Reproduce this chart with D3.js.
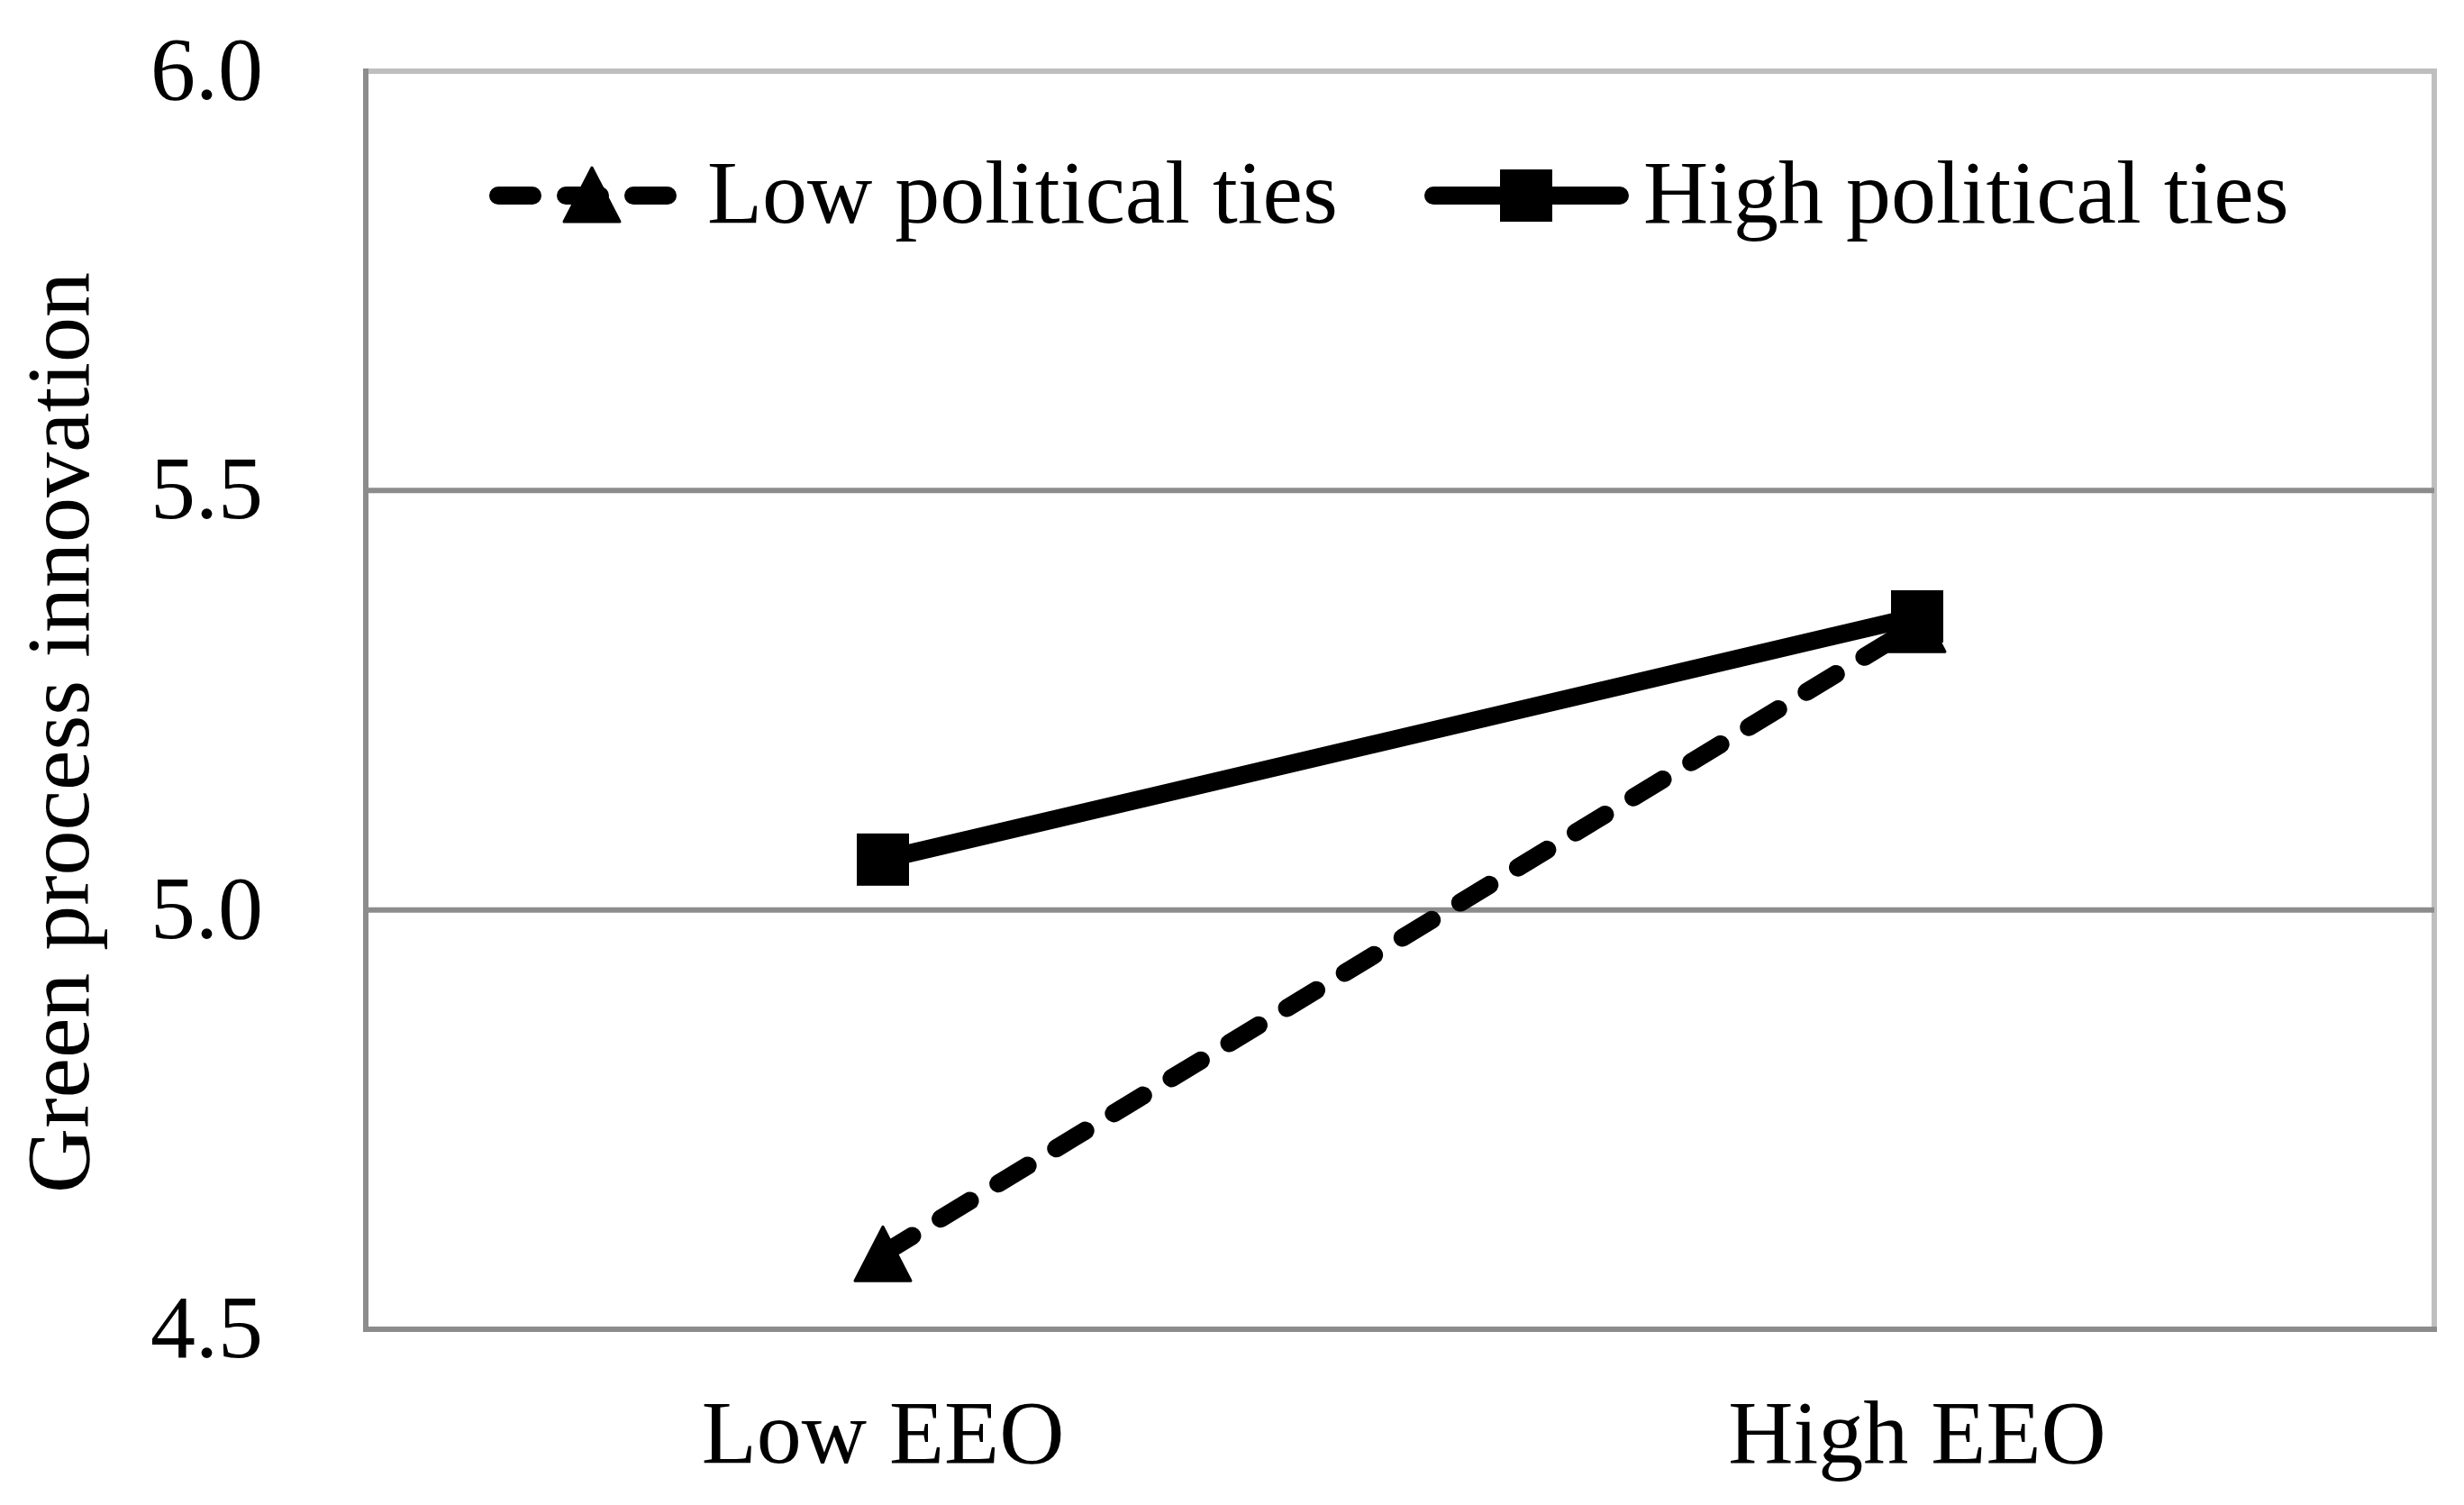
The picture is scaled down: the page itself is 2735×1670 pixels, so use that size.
<html>
  <head>
    <meta charset="utf-8">
    <title>Green process innovation</title>
    <script src="https://d3js.org/d3.v7.min.js"></script>
    <style>
      body { margin: 0; background: #fff; }
      text { font-family: "Liberation Serif", "Times New Roman", serif; fill: #000; }
    </style>
  </head>
  <body>

    <svg id="grafico" width="2735" height="1670"></svg>

    <script>
    // data
    let categories = ["Low EEO", "High EEO"];
    let seriesNames = ["Low political ties", "High political ties"];
    let lowTies = [4.59, 5.34];
    let highTies = [5.06, 5.35];
    let yTicks = [4.5, 5.0, 5.5, 6.0];
    let yTitle = "Green process innovation";

    let width = 2735;
    let height = 1670;
    let plotLeft = 406, plotRight = 2702, plotTop = 79, plotBottom = 1475;
    let fontSize = 100;
    let lineW = 20;

    let svg = d3.select("#grafico");
    svg.append("rect").attr("width", width).attr("height", height).attr("fill", "white");

    let x = d3.scaleBand().domain(categories).range([plotLeft, plotRight]);
    let y = d3.scaleLinear().domain([4.5, 6.0]).range([plotBottom, plotTop]);
    let cx = d => x(d) + x.bandwidth() / 2;

    // plot area border
    svg.append("rect")
      .attr("x", plotLeft).attr("y", plotTop)
      .attr("width", plotRight - plotLeft).attr("height", plotBottom - plotTop)
      .attr("fill", "none").attr("stroke", "#bfbfbf").attr("stroke-width", 6);

    // gridlines
    svg.append("g")
      .selectAll("line")
      .data(yTicks.filter(t => t > 4.5 && t < 6.0))
      .enter()
      .append("line")
      .attr("x1", plotLeft).attr("x2", plotRight)
      .attr("y1", d => y(d)).attr("y2", d => y(d))
      .attr("stroke", "#8c8c8c").attr("stroke-width", 6);

    // axes lines
    svg.append("line")
      .attr("x1", plotLeft).attr("x2", plotLeft).attr("y1", plotTop - 3).attr("y2", plotBottom + 3)
      .attr("stroke", "#8c8c8c").attr("stroke-width", 6);
    svg.append("line")
      .attr("x1", plotLeft - 3).attr("x2", plotRight + 3).attr("y1", plotBottom).attr("y2", plotBottom)
      .attr("stroke", "#8c8c8c").attr("stroke-width", 6);

    // y tick labels
    svg.append("g")
      .selectAll("text")
      .data(yTicks)
      .enter()
      .append("text")
      .attr("x", 292)
      .attr("y", d => y(d) + 31)
      .attr("text-anchor", "end")
      .attr("font-size", fontSize)
      .text(d => d.toFixed(1));

    // x labels
    svg.append("g")
      .selectAll("text")
      .data(categories)
      .enter()
      .append("text")
      .attr("x", d => cx(d))
      .attr("y", 1623)
      .attr("text-anchor", "middle")
      .attr("font-size", fontSize)
      .text(d => d);

    // y title
    svg.append("text")
      .attr("transform", "translate(98,813) rotate(-90)")
      .attr("text-anchor", "middle")
      .attr("font-size", fontSize)
      .text(yTitle);

    // markers
    function triangle(g, px, py) {
      g.append("path")
        .attr("d", "M" + px + "," + (py - 30) + " L" + (px + 31) + "," + (py + 30) + " L" + (px - 31) + "," + (py + 30) + " Z")
        .attr("fill", "black").attr("stroke", "black")
        .attr("stroke-width", 3).attr("stroke-linejoin", "round");
    }
    function square(g, px, py) {
      g.append("rect")
        .attr("x", px - 29).attr("y", py - 29)
        .attr("width", 58).attr("height", 58)
        .attr("fill", "black");
    }

    let line = d3.line().x((d, i) => cx(categories[i])).y(d => y(d));

    // low political ties (dashed, triangles)
    let gLow = svg.append("g");
    gLow.append("path")
      .attr("d", line(lowTies))
      .attr("fill", "none").attr("stroke", "black")
      .attr("stroke-width", lineW)
      .attr("stroke-dasharray", "38,37")
      .attr("stroke-linecap", "round");
    lowTies.forEach((v, i) => triangle(gLow, cx(categories[i]), y(v)));

    // high political ties (solid, squares)
    let gHigh = svg.append("g");
    gHigh.append("path")
      .attr("d", line(highTies))
      .attr("fill", "none").attr("stroke", "black")
      .attr("stroke-width", lineW);
    highTies.forEach((v, i) => square(gHigh, cx(categories[i]), y(v)));

    // legend
    let leg = svg.append("g");
    leg.append("line")
      .attr("x1", 553).attr("x2", 741).attr("y1", 217).attr("y2", 217)
      .attr("stroke", "black").attr("stroke-width", lineW)
      .attr("stroke-dasharray", "38,37").attr("stroke-linecap", "round");
    triangle(leg, 657, 216);
    leg.append("text")
      .attr("x", 785).attr("y", 247)
      .attr("font-size", fontSize)
      .text(seriesNames[0]);

    leg.append("line")
      .attr("x1", 1591).attr("x2", 1798).attr("y1", 217).attr("y2", 217)
      .attr("stroke", "black").attr("stroke-width", lineW)
      .attr("stroke-linecap", "round");
    square(leg, 1694, 217);
    leg.append("text")
      .attr("x", 1824).attr("y", 247)
      .attr("font-size", fontSize)
      .text(seriesNames[1]);
    </script>

  </body>
</html>
